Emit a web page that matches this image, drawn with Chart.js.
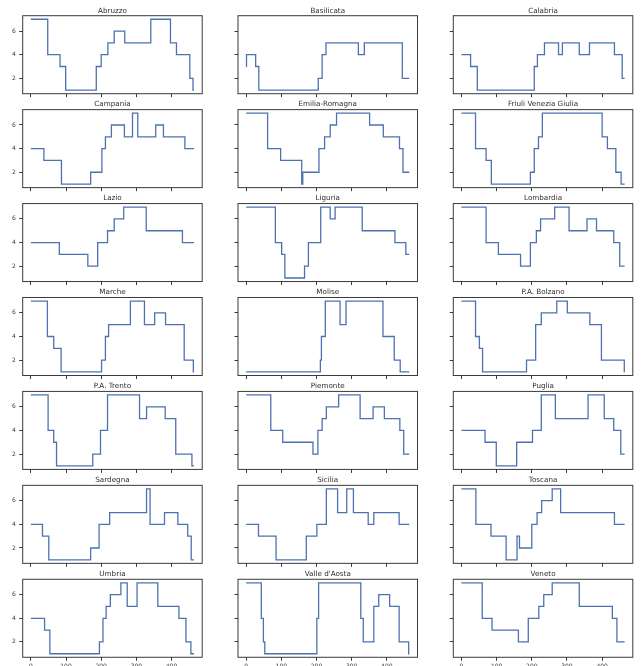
<!DOCTYPE html>
<html>
<head>
<meta charset="utf-8">
<script src="https://cdn.jsdelivr.net/npm/chart.js@4.4.1/dist/chart.umd.min.js"></script>
<style>
  html, body { margin: 0; padding: 0; background: #fff; width: 643px; height: 666px; overflow: hidden; }
  #grid { position: relative; width: 643px; height: 666px; }
  #grid canvas { position: absolute; }
</style>
</head>
<body>
<div id="grid"></div>
<script>
// Level per region over time: each entry is [day, level] where the level starts.
const LAST_DAY = 464;
const xTicks = [0, 100, 200, 300, 400];
const yTicks = [2, 4, 6];

const regionNames = [
  "Abruzzo", "Basilicata", "Calabria",
  "Campania", "Emilia-Romagna", "Friuli Venezia Giulia",
  "Lazio", "Liguria", "Lombardia",
  "Marche", "Molise", "P.A. Bolzano",
  "P.A. Trento", "Piemonte", "Puglia",
  "Sardegna", "Sicilia", "Toscana",
  "Umbria", "Valle d'Aosta", "Veneto"
];

const abruzzo       = [[0,7],[48,4],[83,3],[99,1],[186,3],[200,4],[219,5],[237,6],[267,5],[341,7],[397,5],[414,4],[452,2],[461,1]];
const basilicata    = [[0,3],[1,4],[27,3],[36,1],[205,2],[216,4],[227,5],[319,4],[336,5],[444,2]];
const calabria      = [[0,4],[26,3],[45,1],[207,3],[216,4],[236,5],[276,4],[287,5],[335,4],[364,5],[435,4],[457,2]];
const campania      = [[0,4],[37,3],[87,1],[170,2],[202,4],[212,5],[229,6],[266,5],[289,7],[304,5],[355,6],[377,5],[438,4]];
const emiliaRomagna = [[0,7],[61,4],[98,3],[158,1],[161,2],[207,4],[223,5],[239,6],[257,7],[351,6],[390,5],[436,4],[446,2]];
const friuliVG      = [[0,7],[40,4],[70,3],[85,1],[196,2],[207,4],[219,5],[230,7],[400,5],[415,4],[439,2],[454,1]];
const lazio         = [[0,4],[81,3],[162,2],[190,4],[218,5],[237,6],[264,7],[328,5],[431,4]];
const liguria       = [[0,7],[83,4],[101,3],[110,1],[166,2],[177,4],[212,7],[239,6],[253,7],[330,5],[423,4],[454,3]];
const lombardia     = [[0,7],[70,4],[105,3],[168,2],[196,4],[213,5],[225,6],[265,7],[306,5],[357,6],[384,5],[433,4],[450,2]];
const marche        = [[0,7],[47,4],[65,3],[86,1],[201,2],[212,4],[221,5],[283,7],[323,5],[352,6],[383,5],[436,2],[462,1]];
const molise        = [[0,1],[211,2],[214,4],[225,7],[267,5],[284,7],[389,4],[421,2],[438,1]];
const paBolzano     = [[0,7],[40,4],[51,3],[60,1],[185,2],[211,5],[227,6],[271,7],[301,6],[365,5],[398,2],[463,1]];
const paTrento      = [[0,7],[49,4],[65,3],[73,1],[176,2],[198,4],[218,7],[309,5],[329,6],[382,5],[412,2],[458,1]];
const piemonte      = [[0,7],[70,4],[104,3],[190,2],[204,4],[216,5],[228,6],[263,7],[324,5],[361,6],[393,5],[437,4],[448,2]];
const puglia        = [[0,4],[67,3],[99,1],[157,3],[202,4],[227,7],[267,5],[360,7],[406,5],[433,4],[453,2]];
const sardegna      = [[0,4],[33,3],[51,1],[170,2],[194,4],[224,5],[329,7],[339,4],[380,5],[418,4],[446,3],[456,1]];
const sicilia       = [[0,4],[35,3],[85,1],[171,3],[201,4],[228,7],[260,5],[286,7],[305,5],[347,4],[363,5],[435,4]];
const toscana       = [[0,7],[41,4],[84,3],[127,1],[158,3],[165,2],[200,4],[215,5],[228,6],[258,7],[282,5],[435,4]];
const umbria        = [[0,4],[39,3],[54,1],[195,2],[205,4],[214,5],[226,6],[256,7],[274,5],[302,7],[361,5],[421,4],[441,2],[455,1]];
const valleDAosta   = [[0,7],[43,4],[49,2],[53,1],[201,4],[206,7],[326,4],[333,2],[363,5],[377,6],[408,5],[435,2],[462,1]];
const veneto        = [[0,7],[59,4],[87,3],[162,2],[190,4],[220,5],[234,6],[258,7],[335,5],[429,4],[442,2]];

const regionSeries = [
  abruzzo, basilicata, calabria,
  campania, emiliaRomagna, friuliVG,
  lazio, liguria, lombardia,
  marche, molise, paBolzano,
  paTrento, piemonte, puglia,
  sardegna, sicilia, toscana,
  umbria, valleDAosta, veneto
];

// Grid geometry (3 columns x 7 rows of small panels)
const NCOLS = 3, NROWS = 7;
const COL_PITCH = 215.3, ROW_PITCH = 93.93;
const AX_LEFT = 22.7, AX_TOP = 15.7, AX_W = 179.5, AX_H = 78;
const CANVAS_W = 215, CANVAS_H = 112;
const X_AXIS_H = 14;

const INK = '#3a3a3a';
const LINE_BLUE = '#4c72b0';
const FONT = '"DejaVu Sans", sans-serif';

// Draws the four-sided frame and the panel title
const panelFrame = {
  id: 'panelFrame',
  afterDraw(chart, args, opts) {
    const { ctx, chartArea: a } = chart;
    ctx.save();
    ctx.strokeStyle = INK;
    ctx.lineWidth = 1;
    ctx.strokeRect(a.left, a.top, a.right - a.left, a.bottom - a.top);
    ctx.fillStyle = '#2e2e2e';
    ctx.font = '7.2px ' + FONT;
    ctx.textAlign = 'center';
    ctx.textBaseline = 'alphabetic';
    ctx.fillText(opts.text, (a.left + a.right) / 2, a.top - 3.2);
    ctx.restore();
  }
};

const grid = document.getElementById('grid');

regionNames.forEach((name, i) => {
  const row = Math.floor(i / NCOLS), col = i % NCOLS;
  const axLeft = AX_LEFT + COL_PITCH * col;
  const axTop = AX_TOP + ROW_PITCH * row;
  const cx = Math.round(col * COL_PITCH);
  const cy = Math.round(row * ROW_PITCH);
  const localLeft = axLeft - cx;
  const localTop = axTop - cy;

  const canvas = document.createElement('canvas');
  canvas.width = CANVAS_W;
  canvas.height = CANVAS_H;
  canvas.style.left = cx + 'px';
  canvas.style.top = cy + 'px';
  canvas.style.width = CANVAS_W + 'px';
  canvas.style.height = CANVAS_H + 'px';
  grid.appendChild(canvas);

  const series = regionSeries[i];
  const points = series.map(([d, v]) => ({ x: d, y: v }));
  points.push({ x: LAST_DAY, y: series[series.length - 1][1] });

  new Chart(canvas, {
    type: 'line',
    data: {
      datasets: [{
        data: points,
        borderColor: LINE_BLUE,
        borderWidth: 1.3,
        pointRadius: 0,
        stepped: true,
        fill: false,
        tension: 0
      }]
    },
    options: {
      responsive: false,
      animation: false,
      devicePixelRatio: 1,
      layout: {
        padding: {
          left: 0,
          top: localTop,
          right: CANVAS_W - localLeft - AX_W,
          bottom: CANVAS_H - localTop - AX_H - X_AXIS_H
        }
      },
      plugins: {
        legend: { display: false },
        tooltip: { enabled: false },
        panelFrame: { text: name }
      },
      scales: {
        x: {
          type: 'linear',
          min: -23.2,
          max: 487.2,
          afterBuildTicks: s => { s.ticks = xTicks.map(v => ({ value: v })); },
          afterFit: s => { s.height = X_AXIS_H; },
          border: { display: false },
          grid: { drawOnChartArea: false, drawTicks: true, tickLength: 3.5, tickColor: INK, tickWidth: 1 },
          ticks: {
            display: row === NROWS - 1,
            color: '#3a3a3a',
            font: { family: FONT, size: 6 },
            padding: 2.5,
            maxRotation: 0,
            autoSkip: false
          }
        },
        y: {
          type: 'linear',
          min: 0.7,
          max: 7.3,
          afterBuildTicks: s => { s.ticks = yTicks.map(v => ({ value: v })); },
          afterFit: s => { s.width = localLeft; },
          border: { display: false },
          grid: { drawOnChartArea: false, drawTicks: true, tickLength: 3.5, tickColor: INK, tickWidth: 1 },
          ticks: {
            display: col === 0,
            color: '#3a3a3a',
            font: { family: FONT, size: 6 },
            padding: 3.5
          }
        }
      }
    },
    plugins: [panelFrame]
  });
});
</script>
</body>
</html>
